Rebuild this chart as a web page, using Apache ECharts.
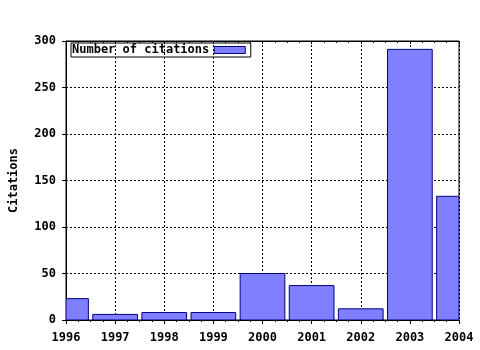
<!DOCTYPE html>
<html>
<head>
<meta charset="utf-8">
<script src="https://cdn.jsdelivr.net/npm/echarts@6/dist/echarts.min.js"></script>
<style>html,body{margin:0;padding:0;background:#fff}#c{width:480px;height:350px}</style>
</head>
<body>
<div id="c"></div>
<script>
const years = [1996, 1997, 1998, 1999, 2000, 2001, 2002, 2003, 2004];
const citations = [23, 6, 8, 8, 50, 37, 12, 291, 133];
const seriesName = 'Number of citations';
const yAxisName = 'Citations';

const font = 'DejaVu Sans Mono';
const barFill = '#8080ff';
const barEdge = '#000080';
const chart = echarts.init(document.getElementById('c'), null, {renderer: 'canvas'});
chart.setOption({
  animation: false,
  backgroundColor: '#fff',
  grid: {left: 64, right: 21, top: 41, bottom: 30, show: true, borderColor: '#000', borderWidth: 1, backgroundColor: 'transparent'},
  legend: {
    left: 71, top: 43, align: 'right', orient: 'horizontal',
    borderColor: '#000', borderWidth: 1, padding: [1, 5, 1, 1],
    itemWidth: 31, itemHeight: 7,
    textStyle: {fontFamily: font, fontWeight: 'bold', fontSize: 12, color: '#000'},
    data: [{name: seriesName, icon: 'rect', itemStyle: {color: barFill, borderColor: barEdge, borderWidth: 1}}]
  },
  xAxis: [{
    type: 'value', min: years[0], max: years[years.length - 1], interval: 1,
    axisLine: {show: true, lineStyle: {color: '#000'}},
    axisTick: {show: true, length: 4, lineStyle: {color: '#000'}},
    minorTick: {show: true, splitNumber: 4, length: 2, lineStyle: {color: '#000'}},
    axisLabel: {fontFamily: font, fontWeight: 'bold', fontSize: 12, color: '#000', margin: 12, formatter: v => String(v)},
    splitLine: {show: true, lineStyle: {color: '#000', type: [2, 2], width: 1}}
  }, {
    type: 'value', position: 'top', min: years[0], max: years[years.length - 1], interval: 1,
    axisLine: {show: true, lineStyle: {color: '#000'}},
    axisTick: {show: true, inside: true, length: 3, lineStyle: {color: '#000'}},
    minorTick: {show: true, splitNumber: 4, length: 2, lineStyle: {color: '#000'}},
    axisLabel: {show: false},
    splitLine: {show: false}
  }],
  yAxis: {
    type: 'value', min: 0, max: 300, interval: 50,
    name: yAxisName, nameLocation: 'middle', nameGap: 46, nameRotate: 90,
    nameTextStyle: {fontFamily: font, fontWeight: 'bold', fontSize: 12, color: '#000'},
    axisLine: {show: true, lineStyle: {color: '#000'}},
    axisTick: {show: true, length: 4, lineStyle: {color: '#000'}},
    axisLabel: {fontFamily: font, fontWeight: 'bold', fontSize: 12, color: '#000', margin: 10},
    splitLine: {show: true, lineStyle: {color: '#000', type: [2, 2], width: 1}}
  },
  series: [{
    name: seriesName, type: 'custom', clip: true,
    itemStyle: {color: barFill, borderColor: barEdge, borderWidth: 1},
    encode: {x: 0, y: 1},
    renderItem: function (params, api) {
      const x = api.value(0), v = api.value(1);
      const p0 = api.coord([x, 0]);
      const p1 = api.coord([x, v]);
      const w = api.size([1, 0])[0] * 0.91;
      const cs = params.coordSys;
      const rect = echarts.graphic.clipRectByRect(
        {x: p0[0] - w / 2, y: p1[1], width: w, height: p0[1] - p1[1]},
        {x: cs.x, y: cs.y, width: cs.width, height: cs.height}
      );
      if (!rect) return null;
      return {type: 'rect', shape: rect, style: {fill: barFill, stroke: barEdge, lineWidth: 1}};
    },
    data: years.map((y, i) => [y, citations[i]])
  }]
});
</script>
</body>
</html>
